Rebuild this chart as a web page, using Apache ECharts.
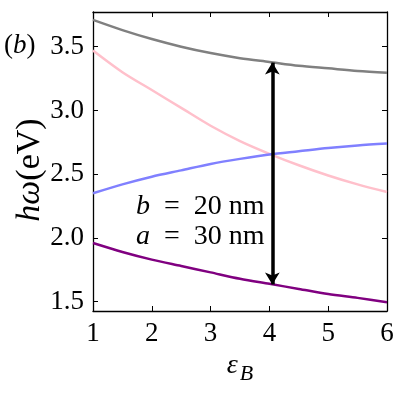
<!DOCTYPE html>
<html>
<head>
<meta charset="utf-8">
<script src="https://cdn.jsdelivr.net/npm/echarts@6/dist/echarts.min.js"></script>
<style>
  html, body { margin: 0; padding: 0; background: #fff; }
  #chart { width: 399px; height: 400px; }
</style>
</head>
<body>
<div id="chart"></div>
<script>
// epsilon_B samples
var epsB = [1, 1.5, 2, 2.5, 3, 3.5, 4, 4.5, 5, 5.5, 6];

// energies (eV)
var grayBand   = [3.71, 3.63, 3.56, 3.50, 3.45, 3.41, 3.38, 3.35, 3.33, 3.31, 3.295];
var pinkBand   = [3.47, 3.30, 3.16, 3.02, 2.88, 2.76, 2.66, 2.57, 2.49, 2.42, 2.36];
var blueBand   = [2.35, 2.42, 2.48, 2.53, 2.58, 2.62, 2.655, 2.68, 2.705, 2.725, 2.74];
var purpleBand = [1.96, 1.89, 1.83, 1.78, 1.73, 1.68, 1.64, 1.60, 1.56, 1.53, 1.496];

// arrow between the two bands
var arrowX = 4.05;
var arrowTop = 3.375;
var arrowBottom = 1.635;

var yTicks = [1.5, 2.0, 2.5, 3.0, 3.5];

var serif = 'Liberation Serif';

function pairs(ys) {
    return epsB.map(function(x, i) { return [x, ys[i]]; });
}

function band(color, ys) {
    return {
        type: 'line',
        data: pairs(ys),
        smooth: 0.3,
        symbol: 'none',
        lineStyle: { color: color, width: 2.5 },
        z: 2
    };
}

var chart = echarts.init(document.getElementById('chart'));

var series = [
    band('#808080', grayBand),
    band('#ffc0cb', pinkBand),
    band('#8080ff', blueBand),
    band('#800080', purpleBand)
];

// double headed arrow
series.push({
    type: 'line',
    data: [],
    markLine: {
        silent: true,
        symbol: ['arrow', 'arrow'],
        symbolSize: [11, 12],
        label: { show: false },
        lineStyle: { color: '#000', width: 3.5, type: 'solid' },
        data: [[{ coord: [arrowX, arrowTop] }, { coord: [arrowX, arrowBottom] }]]
    },
    z: 5
});

var tickStyle = { inside: true, length: 5, lineStyle: { color: '#000', width: 1 } };
var lineStyle = { lineStyle: { color: '#000', width: 1.3 } };

var option = {
    animation: false,
    grid: { left: 93, right: 12, top: 12, bottom: 89 },
    xAxis: [{
        type: 'value',
        min: 1, max: 6, interval: 1,
        axisLine: lineStyle,
        axisTick: tickStyle,
        splitLine: { show: false },
        axisLabel: { fontFamily: serif, fontSize: 27, color: '#000', margin: 9 },
        name: '{i|ε}{s|B}',
        nameLocation: 'middle',
        nameGap: 34,
        nameTextStyle: {
            rich: {
                i: { fontFamily: serif, fontStyle: 'italic', fontSize: 28, color: '#000' },
                s: { fontFamily: serif, fontStyle: 'italic', fontSize: 22, color: '#000', padding: [16, 0, 0, 2] }
            }
        }
    }, {
        type: 'value', position: 'top',
        min: 1, max: 6, interval: 1,
        axisLine: lineStyle,
        axisTick: tickStyle,
        axisLabel: { show: false },
        splitLine: { show: false }
    }],
    yAxis: [{
        type: 'value',
        min: 1.427, max: 3.772,
        axisLine: { show: true, lineStyle: { color: '#000', width: 1.3 } },
        axisTick: { show: true, inside: true, length: 5, lineStyle: { color: '#000', width: 1 }, customValues: yTicks },
        splitLine: { show: false },
        axisLabel: {
            fontFamily: serif, fontSize: 27, color: '#000', margin: 9,
            customValues: yTicks,
            formatter: function(v) { return v.toFixed(1); }
        }
    }, {
        type: 'value', position: 'right',
        min: 1.427, max: 3.772,
        axisLine: { show: true, lineStyle: { color: '#000', width: 1.3 } },
        axisTick: { show: true, inside: true, length: 5, lineStyle: { color: '#000', width: 1 }, customValues: yTicks },
        axisLabel: { show: false },
        splitLine: { show: false }
    }],
    graphic: [{
        // y axis title, rotated
        type: 'text',
        x: 30, y: 170,
        rotation: Math.PI / 2,
        style: {
            text: '{i|hω}{n|(eV)}',
            align: 'center',
            verticalAlign: 'middle',
            fill: '#000',
            rich: {
                i: { fontFamily: serif, fontStyle: 'italic', fontSize: 34 },
                n: { fontFamily: serif, fontSize: 34 }
            }
        }
    }, {
        type: 'text',
        left: 4, top: 32,
        style: {
            text: '({i|b})',
            font: '27px ' + serif,
            fill: '#000',
            rich: { i: { fontFamily: serif, fontStyle: 'italic', fontSize: 27 } }
        }
    }, {
        type: 'text',
        left: 136, top: 192,
        style: {
            text: '{i|b}  =  20 nm\n{i|a}  =  30 nm',
            font: '28px ' + serif,
            fill: '#000',
            lineHeight: 30,
            rich: { i: { fontFamily: serif, fontStyle: 'italic', fontSize: 28, lineHeight: 30 } }
        }
    }],
    series: series
};

chart.setOption(option);
</script>
</body>
</html>
